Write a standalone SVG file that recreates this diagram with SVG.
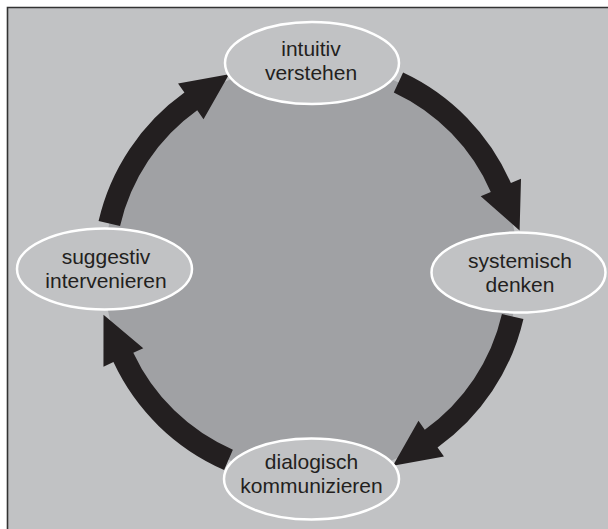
<svg xmlns="http://www.w3.org/2000/svg" xmlns:xlink="http://www.w3.org/1999/xlink" width="608" height="529" viewBox="0 0 608 529">
  <style>
    .node ellipse { fill: #c1c2c4; stroke: #ffffff; stroke-width: 2.5; }
    .node text { font-family: "Liberation Sans", Arial, sans-serif; font-size: 21px; fill: #231f20; text-anchor: middle; }
    .arrow { fill: #231f20; }
  </style>
  <defs>
    <path id="arc" d="M403.1,72.4 A218,218 0 0 1 510.9,183.1 L521.0,178.7 L519.6,230.6 L480.7,196.2 L490.8,191.9 A196,196 0 0 0 393.8,92.4 Z"/>
  </defs>
  <rect x="0" y="0" width="608" height="529" fill="#ffffff"/>
  <rect x="7" y="7" width="610" height="530" fill="#c1c2c4"/>
  <path d="M7.5,537 V7.5 H608" fill="none" stroke="#333333" stroke-width="1.6"/>
  <circle cx="311" cy="270" r="207" fill="#a0a1a4"/>
  <g id="connectors">
    <use xlink:href="#arc" class="arrow"/>
    <use xlink:href="#arc" class="arrow" transform="rotate(78 311 270)"/>
    <use xlink:href="#arc" class="arrow" transform="rotate(178.5 311 270)"/>
    <use xlink:href="#arc" class="arrow" transform="rotate(258 311 270)"/>
  </g>
  <g id="node-intuitiv" class="node">
    <ellipse cx="312" cy="63" rx="87" ry="41"/>
    <text x="311" y="56">intuitiv</text>
    <text x="311" y="80">verstehen</text>
  </g>
  <g id="node-systemisch" class="node">
    <ellipse cx="518.5" cy="272.5" rx="87" ry="40"/>
    <text x="520" y="268">systemisch</text>
    <text x="520" y="292">denken</text>
  </g>
  <g id="node-dialogisch" class="node">
    <ellipse cx="311.5" cy="479" rx="87.5" ry="40.5"/>
    <text x="311.5" y="469">dialogisch</text>
    <text x="311.5" y="493">kommunizieren</text>
  </g>
  <g id="node-suggestiv" class="node">
    <ellipse cx="104.5" cy="269" rx="87.5" ry="40.5"/>
    <text x="106" y="264">suggestiv</text>
    <text x="106" y="288">intervenieren</text>
  </g>
</svg>
